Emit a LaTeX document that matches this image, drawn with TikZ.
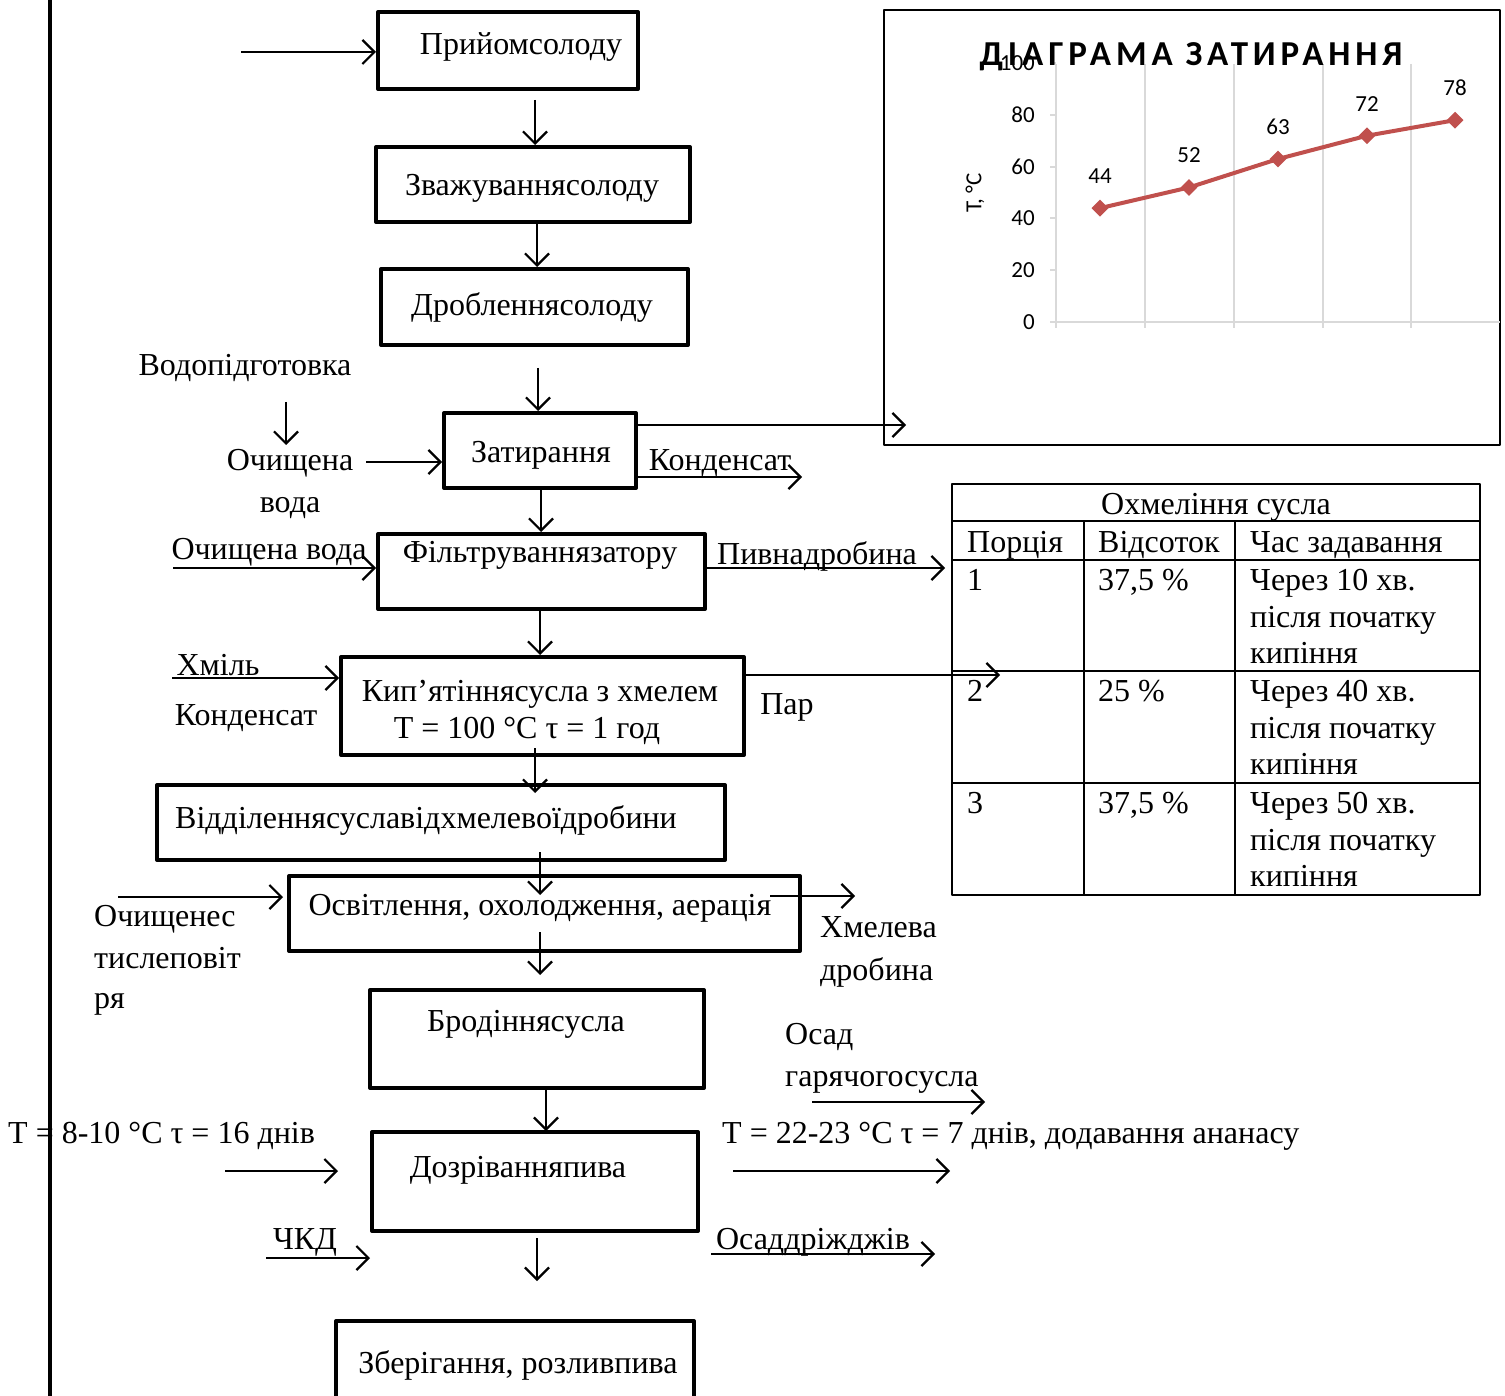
\documentclass[tikz,border=0pt]{standalone}
\usepackage{fontspec}
\setmainfont{Liberation Serif}
\newfontfamily\chartfont{Carlito}
\newfontfamily\titlefont[LetterSpace=14]{Carlito}
\usetikzlibrary{arrows.meta,shapes.geometric}
\definecolor{serie}{HTML}{C0504D}
\definecolor{gridgray}{HTML}{D9D9D9}
\tikzset{
  box/.style={draw,line width=4pt,inner sep=0pt},
  arr/.style={-{Straight Barb[length=12pt,width=24pt]},line width=2.2pt},
  txt/.style={anchor=base,inner sep=0pt,font=\fontsize{32}{37}\selectfont},
  ltxt/.style={txt,anchor=base west},
  ctxt/.style={inner sep=0pt,font=\chartfont\fontsize{23}{27}\selectfont}
}
\begin{document}
\begin{tikzpicture}[x=1pt,y=-1pt,line join=round]
\useasboundingbox (0,0) rectangle (1505,1396);
\draw[line width=4pt] (50,0) -- (50,1400);

\node[box,minimum width=260pt,minimum height=77pt] (b1) at (508,50.5) {};
\node[box,minimum width=314pt,minimum height=75pt] (b2) at (533,184.5) {};
\node[box,minimum width=307pt,minimum height=76pt] (b3) at (534.5,307) {};
\node[box,minimum width=192pt,minimum height=75pt] (b4) at (540,450.5) {};
\node[box,minimum width=327pt,minimum height=75pt] (b5) at (541.5,571.5) {};
\node[box,minimum width=403pt,minimum height=98pt] (b6) at (542.5,706) {};
\node[box,minimum width=568pt,minimum height=75pt] (b7) at (441,822.5) {};
\node[box,minimum width=511pt,minimum height=75pt] (b8) at (544.5,913.5) {};
\node[box,minimum width=334pt,minimum height=98pt] (b9) at (537,1039) {};
\node[box,minimum width=326pt,minimum height=99pt] (b10) at (535,1181.5) {};
\node[box,minimum width=358pt,minimum height=90pt] (b11) at (515,1366) {};

\node[txt] (t1) at (521,55) {Прийомсолоду};
\node[txt] (t2) at (532,196) {Зважуваннясолоду};
\node[txt] (t3) at (532,316) {Дробленнясолоду};
\node[txt] (t4) at (541,463) {Затирання};
\node[txt] (t5) at (540,562) {Фільтруваннязатору};
\node[txt] (t6) at (540,701) {Кип’ятіннясусла з хмелем};
\node[txt] (t6b) at (527,738) {T = 100 °C τ = 1 год};
\node[ltxt] (t7) at (175,828) {Відділеннясуславідхмелевоїдробини};
\node[txt] (t8) at (540,915) {Освітлення, охолодження, аерація};
\node[txt] (t9) at (526,1031) {Бродіннясусла};
\node[txt] (t10) at (518,1177) {Дозріванняпива};
\node[txt] (t11) at (518,1373) {Зберігання, розливпива};

\node[txt] (wprep) at (245,376) {Водопідготовка};
\node[txt] (water1) at (290,470) {Очищена};
\node[txt] (water1b) at (290,512) {вода};
\node[txt] (cond1) at (720,471) {Конденсат};
\node[txt] (water2) at (269,559) {Очищена вода};
\node[txt] (grains) at (817,564) {Пивнадробина};
\node[txt] (hops) at (218,675) {Хміль};
\node[txt] (cond2) at (246,725) {Конденсат};
\node[txt] (steam) at (787,714) {Пар};
\node[ltxt] (air) at (94,926) {Очищенес};
\node[ltxt] (airb) at (94,968) {тислеповіт};
\node[ltxt] (airc) at (94,1008) {ря};
\node[ltxt] (hgr) at (820,937) {Хмелева};
\node[ltxt] (hgrb) at (820,980) {дробина};
\node[ltxt] (sed) at (785,1044) {Осад};
\node[ltxt] (sedb) at (785,1086) {гарячогосусла};
\node[ltxt] (ferm) at (8,1143) {T = 8-10 °C τ = 16 днів};
\node[ltxt] (matur) at (722,1143) {T = 22-23 °C τ = 7 днів, додавання ананасу};
\node[txt] (ckd) at (305,1249) {ЧКД};
\node[txt] (yeast) at (813,1249) {Осаддріжджів};

\coordinate (in1) at (241,52);
\draw[arr] (in1) -- (in1 -| b1.west);
\draw[arr] (535,100) -- (535,145);
\draw[arr] (537,222) -- (537,267);
\draw[arr] (538,368) -- (538,411);
\draw[arr] (286,402) -- (286,445);
\coordinate (in4) at (366,462);
\draw[arr] (in4) -- (in4 -| b4.west);
\coordinate (out4) at (b4.east |- 0,425);
\draw[arr] (out4) -- (906,425);
\coordinate (out4b) at (b4.east |- 0,477);
\draw[arr] (out4b) -- (802,477);
\draw[arr] (541,488) -- (541,532);
\coordinate (in5) at (173,568);
\draw[arr] (in5) -- (in5 -| b5.west);
\coordinate (out5) at (b5.east |- 0,568);
\draw[arr] (out5) -- (945,568);
\draw[arr] (540,609) -- (540,655);
\coordinate (in6) at (172,678);
\draw[arr] (in6) -- (in6 -| b6.west);
\coordinate (out6) at (b6.east |- 0,675);
\draw[arr] (out6) -- (1000,675);
\draw[arr] (535,748) -- (535,793);
\draw[arr] (540,852) -- (540,895);
\coordinate (in8) at (118,897);
\draw[arr] (in8) -- (283,897);
\draw[arr] (770,896) -- (855,896);
\draw[arr] (540,932) -- (540,975);
\draw[arr] (812,1102) -- (985,1102);
\draw[arr] (546,1088) -- (546,1131);
\draw[arr] (225,1171) -- (338,1171);
\draw[arr] (733,1171) -- (950,1171);
\draw[arr] (266,1258) -- (370,1258);
\draw[arr] (711,1254) -- (935,1254);
\draw[arr] (537,1238) -- (537,1281);

\draw[line width=2pt] (884,10) rectangle (1500,445);
\foreach \x in {1056,1145,1234,1323,1411}
  \draw[gridgray,line width=2pt] (\x,64) -- (\x,328);
\draw[gridgray,line width=2pt] (1050,322) -- (1500,322);
\foreach \v in {0,20,...,100}{
  \draw[gridgray,line width=2pt] (1050,{322-2.5875*\v}) -- (1056,{322-2.5875*\v});
  \node[ctxt,anchor=east] at (1035,{322-2.5875*\v}) {\v};
}
\node[ctxt,rotate=90] (ylab) at (975,193) {T, °C};
\foreach \i/\x/\v in {1/1100/44,2/1189/52,3/1278/63,4/1367/72,5/1455/78}{
  \node[diamond,fill=serie,inner sep=0pt,minimum size=17pt] (p\i) at (\x,{322-2.5875*\v}) {};
  \node[ctxt] (l\i) at (\x,{322-2.5875*\v-32}) {\v};
}
\draw[serie,line width=4pt] (p1.center) -- (p2.center) -- (p3.center) -- (p4.center) -- (p5.center);
\node[anchor=base,inner sep=0pt,font=\titlefont\bfseries\fontsize{35}{40}\selectfont] (title) at (1191,66) {ДІАГРАМА ЗАТИРАННЯ};

\draw[line width=2pt] (952,484) rectangle (1480,895);
\foreach \y in {521,560,671,783}
  \draw[line width=2pt] (952,\y) -- (1480,\y);
\draw[line width=2pt] (1084,521) -- (1084,895);
\draw[line width=2pt] (1235,521) -- (1235,895);
\node[txt] (th) at (1216,514) {Охмеління сусла};
\node[ltxt] (h1) at (967,552) {Порція};
\node[ltxt] (h2) at (1098,552) {Відсоток};
\node[ltxt] (h3) at (1250,552) {Час задавання};
\foreach \n/\p/\m/\y in {1/{37,5 \%}/10/590,2/{25 \%}/40/701,3/{37,5 \%}/50/813}{
  \node[ltxt] (r\n a) at (967,\y) {\n};
  \node[ltxt] (r\n b) at (1098,\y) {\p};
  \node[ltxt] (r\n c) at (1250,\y) {Через \m\ хв.};
  \node[ltxt] (r\n d) at (1250,\y+37) {після початку};
  \node[ltxt] (r\n e) at (1250,\y+73) {кипіння};
}
\end{tikzpicture}
\end{document}
